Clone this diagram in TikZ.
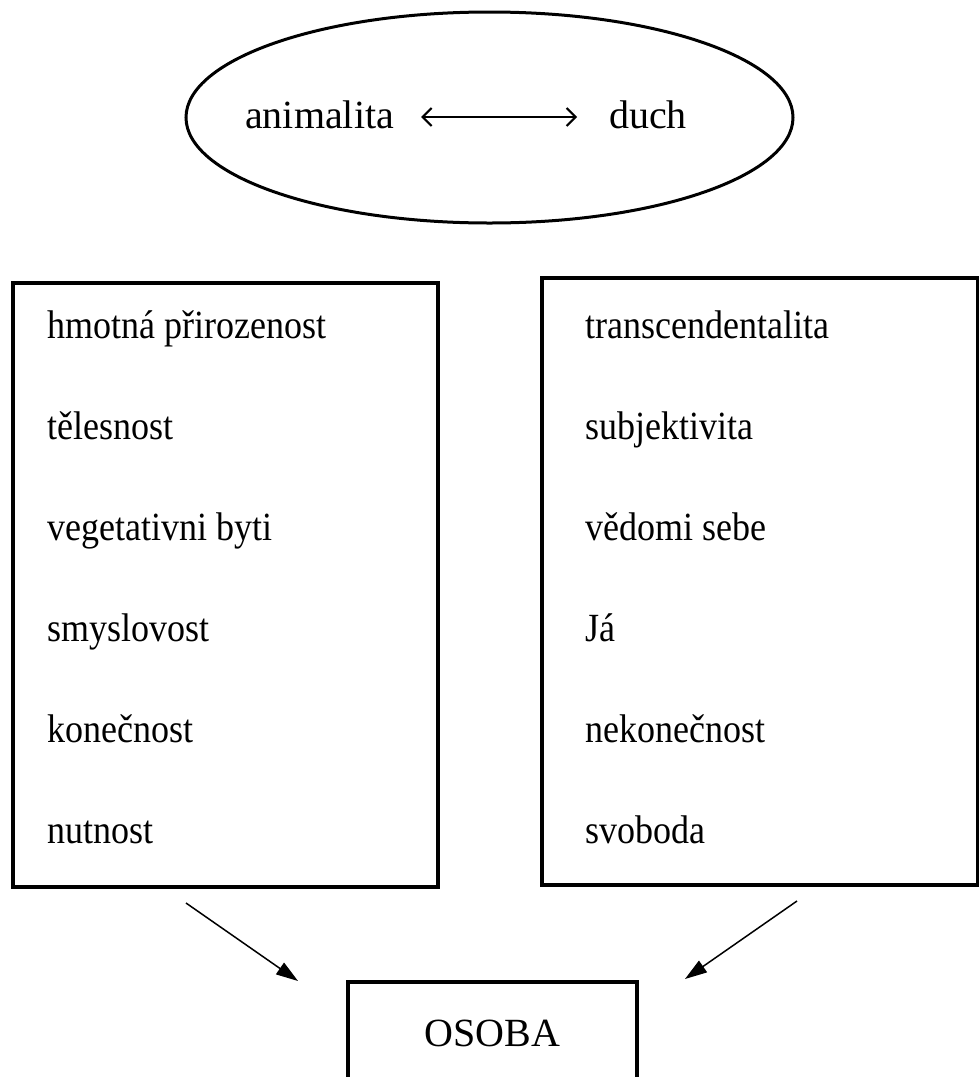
\documentclass[tikz,border=0pt]{standalone}
\usepackage{fontspec}
\setmainfont{Liberation Serif}
\newfontfamily\condfont{Liberation Serif}[FakeStretch=0.9]
\usetikzlibrary{shapes.geometric,arrows.meta}
\tikzset{
  lbl/.style={inner sep=0pt, anchor=base west, font=\fontsize{40}{48}\selectfont},
  itm/.style={inner sep=0pt, anchor=base west, font=\condfont\fontsize{40}{48}\selectfont},
  frame/.style={draw, line width=3.5pt, rectangle, inner sep=0pt},
  oval/.style={draw, ellipse, line width=3pt, inner sep=0pt},
  dblarrow/.style={line width=2pt, {Straight Barb[length=9pt,width=18pt,line width=2pt]}-{Straight Barb[length=9pt,width=18pt,line width=2pt]}},
  toarrow/.style={line width=1.5pt, -{Triangle[length=22pt,width=14pt]}}
}
\begin{document}
\begin{tikzpicture}[x=1pt,y=-1pt]
\clip (0,0) rectangle (979,1077);
\fill[white] (0,0) rectangle (979,1077);

% top ellipse
\node[oval, minimum width=607pt, minimum height=211pt] (ell) at (489.5,117.5) {};
\node[lbl] (anim) at (245,128) {animalita};
\node[lbl] (duch) at (609,128) {duch};
\draw[dblarrow] ([xshift=27pt,yshift=11pt]anim.base east) -- ([xshift=-32pt,yshift=11pt]duch.base west);

% left box
\node[frame, minimum width=425pt, minimum height=604pt] (lbox) at (225.5,585) {};
\node[itm] (l1) at (47,338) {hmotná přirozenost};
\node[itm] (l2) at (47,439) {tělesnost};
\node[itm] (l3) at (47,540) {vegetativni byti};
\node[itm] (l4) at (47,641) {smyslovost};
\node[itm] (l5) at (47,742) {konečnost};
\node[itm] (l6) at (47,843) {nutnost};

% right box
\node[frame, minimum width=436pt, minimum height=607pt] (rbox) at (760,581.5) {};
\node[itm] (r1) at (585,338) {transcendentalita};
\node[itm] (r2) at (585,439) {subjektivita};
\node[itm] (r3) at (585,540) {vědomi sebe};
\node[itm] (r4) at (585,641) {Já};
\node[itm] (r5) at (585,742) {nekonečnost};
\node[itm] (r6) at (585,843) {svoboda};

% OSOBA box
\node[frame, minimum width=289pt, minimum height=104pt, anchor=north, font=\fontsize{40}{48}\selectfont] (osoba) at (492.5,980) {OSOBA};

% arrows
\coordinate (ls) at (186,903);
\coordinate (le) at (298,981);
\coordinate (rs) at (797,901);
\coordinate (re) at (685,979);
\draw[toarrow] (ls) -- (le);
\draw[toarrow] (rs) -- (re);
\end{tikzpicture}
\end{document}
